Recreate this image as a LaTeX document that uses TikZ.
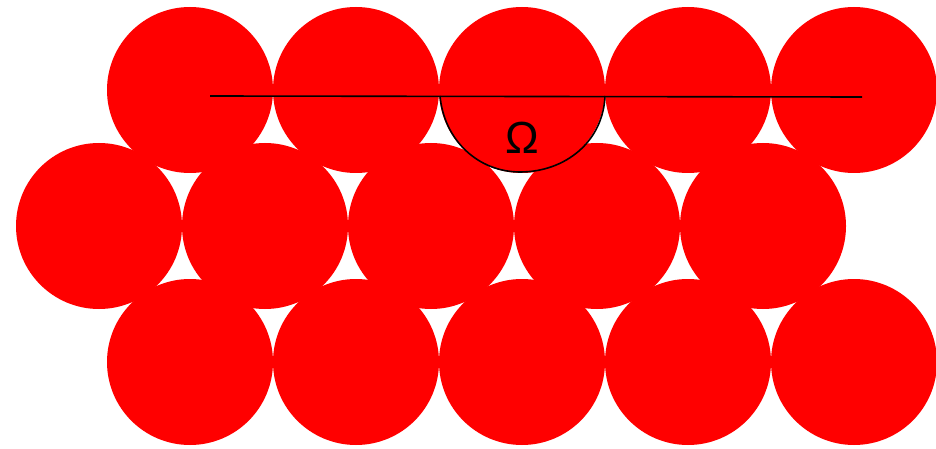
\documentclass[tikz,border=0pt]{standalone}
\usepackage{fontspec}
\newfontfamily\labelfont{Liberation Sans}
\begin{document}
\begin{tikzpicture}[x=1pt,y=-1pt,
  ball/.style={circle,fill={rgb,255:red,255;green,0;blue,0},draw=none,minimum size=166pt,inner sep=0pt},
  edge/.style={black,line width=1.6pt}]
\useasboundingbox (0,0) rectangle (936,449);
% top row
\foreach \i/\x in {1/190,2/356,3/522,4/688,5/854}{
  \node[ball] (t\i) at (\x,90) {};
}
% middle row
\foreach \i/\x in {1/99,2/265,3/431,4/597,5/763}{
  \node[ball] (m\i) at (\x,226) {};
}
% bottom row
\foreach \i/\x in {1/190,2/356,3/522,4/688,5/854}{
  \node[ball] (b\i) at (\x,362) {};
}
\coordinate (ls) at (210,96);
\coordinate (le) at (862,97);
\coordinate (ca) at (440,96);
\coordinate (cb) at (520,172);
\coordinate (cc) at (605,96);
\draw[edge] (ls) -- (le);
\draw[edge] (ca) .. controls (444,140) and (478,172) .. (cb)
  .. controls (565,172) and (603,142) .. (cc);
\node[font=\labelfont\fontsize{45}{48}\selectfont,inner sep=0pt] (omega) at (522,138) {Ω};
\end{tikzpicture}
\end{document}
